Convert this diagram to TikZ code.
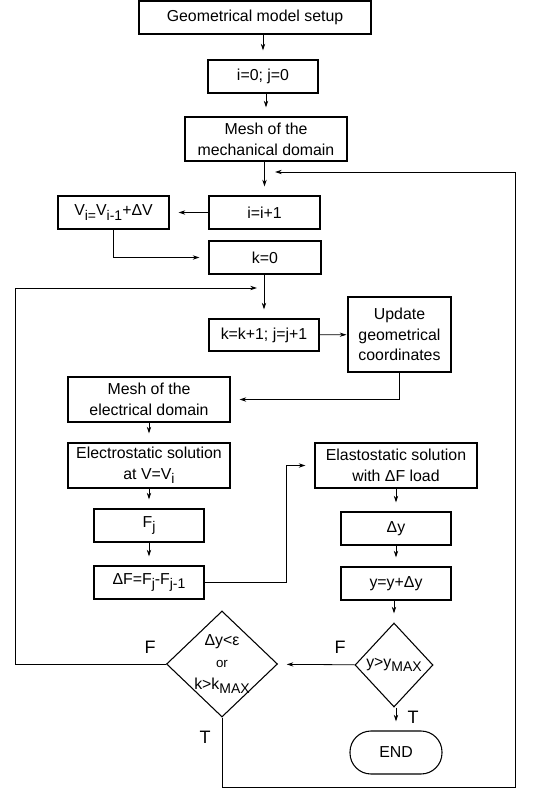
\documentclass[tikz,border=0pt]{standalone}
\usepackage{fontspec}
\setmainfont{Liberation Sans}
\usepackage{tikz}
\usetikzlibrary{shapes.geometric,arrows.meta}
\newlength{\fcunit}
\setlength{\fcunit}{0.75pt}
\newcommand{\lo}[1]{\raisebox{-0.55ex}{\fontsize{10.5}{11}\selectfont #1}}

\begin{document}
\begin{tikzpicture}[x=1\fcunit,y=-1\fcunit,font=\fontsize{11.9}{15.5}\selectfont,box/.style n args={2}{draw,line width=0.8pt,rectangle,align=center,inner sep=0pt,minimum width=#1\fcunit,minimum height=#2\fcunit},dia/.style n args={2}{draw,line width=0.8pt,diamond,align=center,inner sep=-14pt,minimum width=#1\fcunit,minimum height=#2\fcunit},arr/.style={-{Stealth[length=5pt,width=3.2pt]},line width=0.6pt,shorten >=9\fcunit},lbl/.style={font=\fontsize{13.5}{14}\selectfont}]
\useasboundingbox (0,0) rectangle (541,790);
\node[box={232}{33}](setup) at(255,17.5) {Geometrical model setup};
\node[box={110}{33}](init) at(263,76.5) {i=0; j=0};
\node[box={162}{44}](meshM) at(266,139) {Mesh of the\\mechanical domain};
\node[box={111}{33}](inc) at(264.5,212.5) {i=i+1};
\node[box={111}{33}](volt) at(113.5,212.5) {V\lo{i=}V\lo{i-1}+ΔV};
\node[box={112}{33}](kzero) at(265,257.5) {k=0};
\node[box={110}{32}](kinc) at(264,335) {k=k+1; j=j+1};
\node[box={103}{75}](update) at(399.5,334.5) {Update\\geometrical\\coordinates};
\node[box={162}{45}](meshE) at(149,399.5) {Mesh of the\\electrical domain};
\node[box={162}{45}](elec) at(149,465.5) {Electrostatic solution\\at V=V\lo{i}};
\node[box={110}{33}](force) at(149,525.5) {F\lo{j}};
\node[box={110}{33}](dforce) at(149,582.5) {ΔF=F\lo{j}-F\lo{j-1}};
\node[box={162}{45}](elast) at(396,465.5) {Elastostatic solution\\with ΔF load};
\node[box={110}{33}](dy) at(396,528.5) {Δy};
\node[box={110}{33}](ynew) at(396,583.5) {y=y+Δy};
\node[dia={78}{84}](ychk) at(394,665) {y>y\lo{MAX}};
\node[dia={111}{106}](conv) at(222,664) {Δy<ε\\[1pt]{\fontsize{10}{12}\selectfont or}\\[1pt]k>k\lo{MAX}};
\node[box={92}{43},rounded corners=21\fcunit](theend) at(396,752.5) {END};
\node[lbl](fconv) at(150,647) {F};
\node[lbl](fychk) at(340,647) {F};
\node[lbl](tconv) at(205,737) {T};
\node[lbl](tychk) at(413,717) {T};
\coordinate (kjoin) at (263,288);
\coordinate (mjoin) at (265,172);
\foreach \a/\b in {setup/init,init/meshM,meshM/inc,kzero/kinc,meshE/elec,elec/force,force/dforce,elast/dy,dy/ynew,ynew/ychk,ychk/theend} {
   \draw[arr] (\a.south -| \b.north) -- (\b.north);
}
\draw[arr] (inc) -- (volt);
\draw[arr] (volt.south) |- (kzero.west);
\draw[arr,shorten >=1\fcunit] (kinc) -- (update);
\draw[arr] (update.south) |- (meshE.east);
\draw[arr] (dforce.east) -- (286,582.5) |- (elast.west);
\draw[arr] (ychk) -- (conv);
\draw[arr,shorten >=6\fcunit] (conv.west) -- (15,664) |- (kjoin);
\draw[arr,shorten >=10\fcunit] (conv.south) |- (515,787) |- (mjoin);
\end{tikzpicture}
\end{document}
